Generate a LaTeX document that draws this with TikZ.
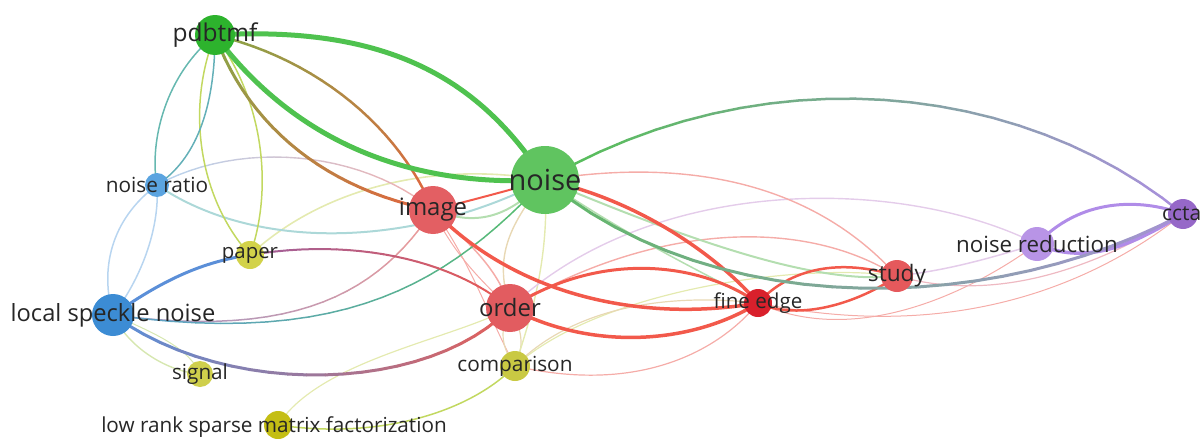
\documentclass[tikz,border=0pt]{standalone}
\usepackage{fontspec}
\setmainfont{Open Sans}
\pgfdeclarelayer{bg}
\pgfsetlayers{bg,main}
\definecolor{grn}{HTML}{4FC24F}
\definecolor{pgrn}{HTML}{B4DEB0}
\definecolor{red1}{HTML}{F2594B}
\definecolor{pink1}{HTML}{F5ACA8}
\definecolor{olive}{HTML}{8AA548}
\definecolor{ora}{HTML}{E8603E}
\definecolor{yel}{HTML}{C2D860}
\definecolor{pyel}{HTML}{E4EAB0}
\definecolor{teal1}{HTML}{66B8B0}
\definecolor{pteal}{HTML}{ACD8D8}
\definecolor{pblue}{HTML}{B8D5F0}
\definecolor{blu}{HTML}{5B8FD8}
\definecolor{pur}{HTML}{B08CE8}
\definecolor{plav}{HTML}{E4CCEA}
\definecolor{beige}{HTML}{E8D8B4}
\definecolor{gray1}{HTML}{8FA0A8}
\definecolor{mauve}{HTML}{A0609A}
\definecolor{lbl}{HTML}{262626}
\newcommand\gedge[7]{%
  \path (#4) .. controls (#5) and (#6) .. (#7)
    \foreach \k in {0,...,24}{coordinate[pos=\k/24] (gq\k)};
  \foreach \k [evaluate=\k as \kk using int(\k+1), evaluate=\k as \pp using int(100-4*\k)] in {0,...,23}{
    \draw[line width=#1, line cap=round, draw={#2!\pp!#3}] (gq\k) -- (gq\kk);
  }%
}
\tikzset{
  kw/.style={circle, inner sep=0pt, draw=none, minimum size=#1},
  lab/.style={text=lbl, inner sep=0pt, font=\fontsize{#1}{#1}\selectfont},
  ed/.style={line cap=round},
}
\begin{document}
\begin{tikzpicture}[x=1pt,y=-1pt]
\useasboundingbox (0,0) rectangle (1200,439);
% nodes (circles)
\node[kw=40pt, fill={rgb,255:red,45;green,179;blue,45}] (pdbtmf) at (215,35) {};
\node[kw=68pt, fill={rgb,255:red,96;green,196;blue,96}] (noise) at (545,180) {};
\node[kw=24pt, fill={rgb,255:red,91;green,164;blue,224}] (nratio) at (157,185) {};
\node[kw=48pt, fill={rgb,255:red,227;green,95;blue,99}] (image) at (433,210) {};
\node[kw=28pt, fill={rgb,255:red,210;green,210;blue,74}] (paper) at (250,255) {};
\node[kw=42pt, fill={rgb,255:red,60;green,140;blue,212}] (lsn) at (113,315) {};
\node[kw=48pt, fill={rgb,255:red,226;green,92;blue,96}] (order) at (510,308) {};
\node[kw=28pt, fill={rgb,255:red,217;green,32;blue,44}] (fedge) at (758,303) {};
\node[kw=32pt, fill={rgb,255:red,229;green,89;blue,92}] (study) at (897,276) {};
\node[kw=34pt, fill={rgb,255:red,184;green,148;blue,230}] (nred) at (1037,244) {};
\node[kw=30pt, fill={rgb,255:red,150;green,104;blue,200}] (ccta) at (1183,214) {};
\node[kw=26pt, fill={rgb,255:red,207;green,207;blue,76}] (signal) at (200,374) {};
\node[kw=30pt, fill={rgb,255:red,201;green,201;blue,67}] (comp) at (515,366) {};
\node[kw=28pt, fill={rgb,255:red,196;green,190;blue,20}] (lrsmf) at (278,425) {};
% edges
\begin{pgfonlayer}{bg}
% pale edges
\draw[ed, pyel, line width=1.2] (lrsmf.center) .. controls (320,360) and (450,340) .. (order.center);
\draw[ed, pyel, line width=1.2] (comp.center) .. controls (600,290) and (800,262) .. (study.center);
\draw[ed, beige, line width=1.2] (comp.center) .. controls (560,320) and (640,290) .. (fedge.center);
\draw[ed, pink1, line width=1.2] (comp.center) .. controls (640,395) and (720,350) .. (fedge.center);
\draw[ed, pink1, line width=1.0] (comp.center) .. controls (490,320) and (470,260) .. (image.center);
\draw[ed, beige, line width=1.2] (comp.center) .. controls (500,345) and (500,330) .. (order.center);
\draw[ed, beige, line width=1.2] (comp.center) .. controls (525,345) and (522,330) .. (order.center);
\draw[ed, pyel, line width=1.4] (noise.center) .. controls (550,260) and (530,320) .. (comp.center);
\draw[ed, beige, line width=1.4] (noise.center) .. controls (505,230) and (495,260) .. (order.center);
\draw[ed, plav, line width=1.4] (order.center) .. controls (650,175) and (900,175) .. (nred.center);
\draw[ed, pink1, line width=1.4] (order.center) .. controls (650,225) and (800,215) .. (study.center);
\draw[ed, pink1, line width=1.4] (noise.center) .. controls (700,155) and (820,190) .. (study.center);
\draw[ed, pink1, line width=1.0] (fedge.center) .. controls (850,345) and (960,300) .. (nred.center);
\draw[ed, pink1, line width=1.0] (fedge.center) .. controls (960,345) and (1100,280) .. (ccta.center);
\draw[ed, plav, line width=1.5] (study.center) .. controls (950,270) and (990,258) .. (nred.center);
\draw[ed, pink1!60!plav, line width=1.2] (study.center) .. controls (1000,305) and (1100,265) .. (ccta.center);
\draw[ed, pgrn, line width=2] (noise.center) .. controls (700,245) and (820,285) .. (study.center);
\draw[ed, pgrn, line width=1.5] (noise.center) .. controls (640,245) and (720,280) .. (fedge.center);
\draw[ed, pgrn, line width=2] (image.center) .. controls (480,228) and (510,215) .. (noise.center);
\draw[ed, pink1, line width=1.5] (image.center) .. controls (468,242) and (498,268) .. (order.center);
\draw[ed, pink1, line width=1.0] (image.center) .. controls (452,252) and (482,282) .. (order.center);
\draw[ed, pyel, line width=1.6] (paper.center) .. controls (320,190) and (430,160) .. (noise.center);
\draw[ed, pblue, line width=1.5] (nratio.center) .. controls (110,220) and (100,270) .. (lsn.center);
\draw[ed, pblue, line width=1.5] (nratio.center) .. controls (160,230) and (140,280) .. (lsn.center);
\draw[ed, pteal, line width=2] (nratio.center) .. controls (260,255) and (420,245) .. (noise.center);
\gedge{1.4}{pblue}{pink1}{nratio.center}{240,140}{360,150}{image.center}
\draw[ed, pyel!70!pgrn, line width=1.4] (lsn.center) .. controls (130,350) and (170,372) .. (signal.center);
\draw[ed, pyel!70!pgrn, line width=1.0] (lsn.center) .. controls (160,335) and (190,350) .. (signal.center);
\gedge{1.5}{blu!60!plav}{pink1!80!red1}{lsn.center}{300,340}{380,290}{image.center}
\gedge{1.5}{blu!70!teal1}{grn!80!teal1}{lsn.center}{350,348}{450,280}{noise.center}
\draw[ed, yel, line width=1.5] (comp.center) .. controls (470,412) and (380,440) .. (lrsmf.center);
% medium edges
\draw[ed, yel, line width=1.5] (pdbtmf.center) .. controls (185,110) and (200,200) .. (paper.center);
\draw[ed, yel, line width=1.5] (pdbtmf.center) .. controls (270,110) and (270,200) .. (paper.center);
\draw[ed, teal1, line width=1.5] (pdbtmf.center) .. controls (160,80) and (150,150) .. (nratio.center);
\draw[ed, teal1!80!blu, line width=1.5] (pdbtmf.center) .. controls (215,110) and (195,160) .. (nratio.center);
\gedge{2}{mauve}{red1}{paper.center}{350,238}{450,258}{order.center}
\gedge{3}{blu}{red1}{lsn.center}{230,400}{430,392}{order.center}
\draw[ed, blu, line width=3] (lsn.center) .. controls (160,282) and (200,262) .. (paper.center);
\draw[ed, red1, line width=2] (image.center) .. controls (480,198) and (510,190) .. (noise.center);
% purple cluster
\draw[ed, pur, line width=3] (nred.center) .. controls (1080,198) and (1140,198) .. (ccta.center);
\draw[ed, pur, line width=3.5] (nred.center) .. controls (1090,268) and (1140,240) .. (ccta.center);
% red thick
\draw[ed, red1, line width=3] (order.center) .. controls (600,250) and (700,262) .. (fedge.center);
\draw[ed, red1, line width=3.5] (order.center) .. controls (600,355) and (700,340) .. (fedge.center);
\draw[ed, red1, line width=2.5] (fedge.center) .. controls (800,322) and (860,302) .. (study.center);
\draw[ed, red1, line width=2.5] (fedge.center) .. controls (790,268) and (840,258) .. (study.center);
\draw[ed, red1, line width=3.5] (image.center) .. controls (520,300) and (650,322) .. (fedge.center);
\draw[ed, red1, line width=3.5] (noise.center) .. controls (640,200) and (720,258) .. (fedge.center);
% green/gradient long
\gedge{3}{grn!90!gray1}{pur!80!gray1}{noise.center}{720,325}{1000,312}{ccta.center}
\gedge{2.5}{grn!90!gray1}{pur}{noise.center}{760,55}{1020,80}{ccta.center}
% pdbtmf
\gedge{2.5}{olive}{ora}{pdbtmf.center}{320,60}{400,130}{image.center}
\gedge{3}{olive}{ora}{pdbtmf.center}{250,130}{330,190}{image.center}
\draw[ed, grn, line width=5] (pdbtmf.center) .. controls (390,25) and (480,80) .. (noise.center);
\draw[ed, grn, line width=5] (pdbtmf.center) .. controls (290,135) and (400,188) .. (noise.center);
\end{pgfonlayer}
% labels
\node[lab=24.5] (l-pdbtmf) at (pdbtmf) {pdbtmf};
\node[lab=29] (l-noise) at (noise) {noise};
\node[lab=20.8] (l-nratio) at (nratio) {noise ratio};
\node[lab=23.9] (l-image) at (image) {image};
\node[lab=20.4] (l-paper) at (paper) {paper};
\node[lab=23.7] (l-lsn) at (lsn) {local speckle noise};
\node[lab=23.9] (l-order) at (order) {order};
\node[lab=20.6] (l-fedge) at (fedge) {fine edge};
\node[lab=22.7] (l-study) at (study) {study};
\node[lab=22.3] (l-nred) at (nred) {noise reduction};
\node[lab=21, anchor=west] (l-ccta) at (1162,214) {ccta};
\node[lab=20.7] (l-signal) at (signal) {signal};
\node[lab=20.8] (l-comp) at (comp) {comparison};
\node[lab=20.7] (l-lrsmf) at (274,427) {low rank sparse matrix factorization};
\end{tikzpicture}
\end{document}
